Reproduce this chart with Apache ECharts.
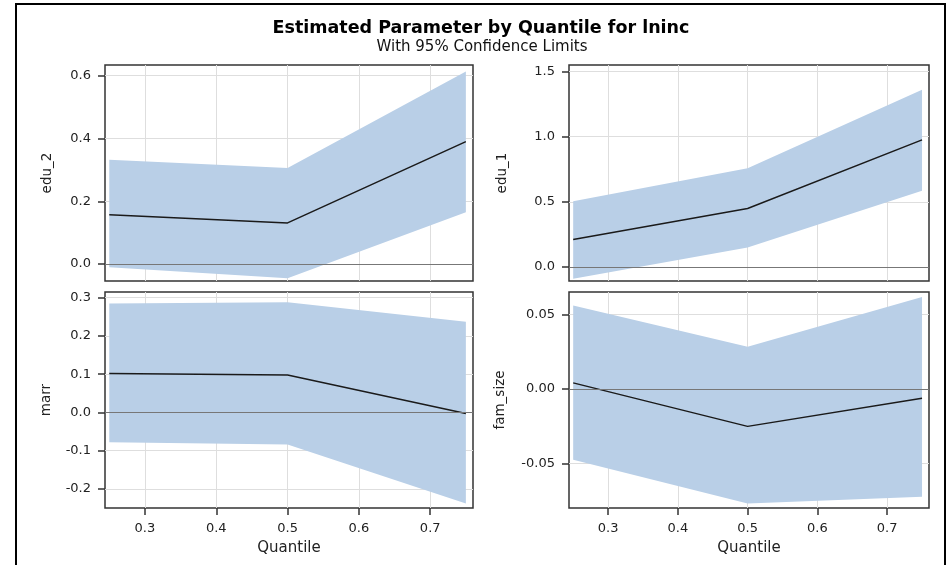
<!DOCTYPE html>
<html>
<head>
<meta charset="utf-8">
<script src="https://cdn.jsdelivr.net/npm/echarts@6/dist/echarts.min.js"></script>
<style>
  html, body { margin: 0; padding: 0; background: #fff; }
  #chart { width: 951px; height: 565px; }
</style>
</head>
<body>
<div id="chart"></div>
<script>
// quantiles and tick values
const quantiles = [0.25, 0.5, 0.75];
const xTicks = [0.3, 0.4, 0.5, 0.6, 0.7];

// edu_2
const edu2Est = [0.157, 0.131, 0.390];
const edu2Upper = [0.332, 0.306, 0.613];
const edu2Lower = [-0.010, -0.045, 0.165];
const edu2Ticks = [0, 0.2, 0.4, 0.6];

// edu_1
const edu1Est = [0.211, 0.449, 0.975];
const edu1Upper = [0.505, 0.757, 1.360];
const edu1Lower = [-0.090, 0.149, 0.585];
const edu1Ticks = [0, 0.5, 1.0, 1.5];

// marr
const marrEst = [0.102, 0.098, -0.003];
const marrUpper = [0.285, 0.288, 0.237];
const marrLower = [-0.078, -0.084, -0.238];
const marrTicks = [-0.2, -0.1, 0, 0.1, 0.2, 0.3];

// fam_size
const famEst = [0.0040, -0.0252, -0.0063];
const famUpper = [0.0560, 0.0283, 0.0617];
const famLower = [-0.0476, -0.0770, -0.0724];
const famTicks = [-0.05, 0, 0.05];

const FONT = 'DejaVu Sans';
const BAND = '#b9cfe7';

const panels = [
  { name: 'edu_2', est: edu2Est, upper: edu2Upper, lower: edu2Lower, ticks: edu2Ticks, digits: 1, min: -0.054, max: 0.634 },
  { name: 'edu_1', est: edu1Est, upper: edu1Upper, lower: edu1Lower, ticks: edu1Ticks, digits: 1, min: -0.108, max: 1.55 },
  { name: 'marr', est: marrEst, upper: marrUpper, lower: marrLower, ticks: marrTicks, digits: 1, min: -0.25, max: 0.315 },
  { name: 'fam_size', est: famEst, upper: famUpper, lower: famLower, ticks: famTicks, digits: 2, min: -0.080, max: 0.065 }
];

const boxes = [
  { left: 105, top: 65, width: 368, height: 216, nameGap: 51 },
  { left: 569, top: 65, width: 360, height: 216, nameGap: 60 },
  { left: 105, top: 292, width: 368, height: 216, nameGap: 52 },
  { left: 569, top: 292, width: 360, height: 216, nameGap: 62 }
];

const grids = [], xAxes = [], yAxes = [], series = [];

panels.forEach((p, i) => {
  const b = boxes[i];
  const bottom = i >= 2;
  grids.push({
    left: b.left, top: b.top, width: b.width, height: b.height,
    show: true, borderColor: '#333', borderWidth: 1.5, backgroundColor: 'transparent'
  });
  xAxes.push({
    type: 'value', gridIndex: i, min: 0.244, max: 0.76,
    axisLine: { show: false, onZero: false },
    axisTick: { show: bottom, length: 7, customValues: xTicks, lineStyle: { color: '#333', width: 1.5 } },
    axisLabel: { show: bottom, customValues: xTicks, margin: 14, fontFamily: FONT, fontSize: 13, color: '#222',
      formatter: (v) => v.toFixed(1) },
    splitLine: { show: true, lineStyle: { color: '#dedede', width: 1 } },
    name: bottom ? 'Quantile' : '', nameLocation: 'middle', nameGap: 33,
    nameTextStyle: { fontFamily: FONT, fontSize: 15, color: '#222' }
  });
  yAxes.push({
    type: 'value', gridIndex: i, min: p.min, max: p.max,
    axisLine: { show: false, onZero: false },
    axisTick: { show: true, length: 7, customValues: p.ticks, lineStyle: { color: '#333', width: 1.5 } },
    axisLabel: { customValues: p.ticks, margin: 14, fontFamily: FONT, fontSize: 13, color: '#222',
      formatter: (v) => v.toFixed(p.digits) },
    splitLine: { show: true, lineStyle: { color: '#dedede', width: 1 } },
    name: p.name, nameLocation: 'middle', nameGap: b.nameGap,
    nameTextStyle: { fontFamily: FONT, fontSize: 13.5, color: '#222' }
  });

  // confidence band as one polygon through the upper and lower limits
  series.push({
    type: 'custom', xAxisIndex: i, yAxisIndex: i, silent: true,
    data: quantiles.map((q, k) => [q, p.lower[k], p.upper[k]]),
    encode: { x: 0, y: [1, 2] },
    renderItem: (params, api) => {
      if (params.dataIndex !== 0) return;
      const top = quantiles.map((q, k) => api.coord([q, p.upper[k]]));
      const bot = quantiles.map((q, k) => api.coord([q, p.lower[k]])).reverse();
      return { type: 'polygon', shape: { points: top.concat(bot) }, style: { fill: BAND } };
    }
  });
  // estimate
  series.push({
    type: 'line', xAxisIndex: i, yAxisIndex: i, symbol: 'none', silent: true,
    lineStyle: { color: '#1a1a1a', width: 1.5 },
    data: quantiles.map((q, k) => [q, p.est[k]]),
    markLine: {
      silent: true, symbol: ['none', 'none'], label: { show: false },
      lineStyle: { color: '#777', width: 1, type: 'solid' },
      data: [{ yAxis: 0 }]
    }
  });
});

const chart = echarts.init(document.getElementById('chart'), null, { renderer: 'canvas' });
chart.setOption({
  animation: false,
  backgroundColor: '#fff',
  graphic: [
    { type: 'rect', shape: { x: 16, y: 4, width: 929, height: 600 },
      style: { fill: 'none', stroke: '#000', lineWidth: 2 } },
    { type: 'text', x: 481, y: 28, style: { text: 'Estimated Parameter by Quantile for lninc',
      align: 'center', verticalAlign: 'middle', font: 'bold 17.5px "DejaVu Sans"', fill: '#000' } },
    { type: 'text', x: 482, y: 47, style: { text: 'With 95% Confidence Limits',
      align: 'center', verticalAlign: 'middle', font: '15px "DejaVu Sans"', fill: '#111' } }
  ],
  grid: grids,
  xAxis: xAxes,
  yAxis: yAxes,
  series: series
});
</script>
</body>
</html>
